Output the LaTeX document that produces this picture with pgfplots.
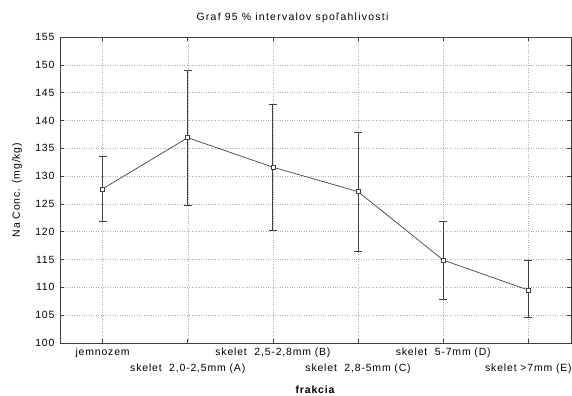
\documentclass[border=0pt]{standalone}
\usepackage{pgfplots}
\pgfplotsset{compat=1.18}
\usepackage{fontspec}
\setmainfont{Liberation Sans}[LetterSpace=8]
\definecolor{axgray}{HTML}{404040}
\definecolor{gridgray}{HTML}{B0B0B0}
\begin{document}
\begin{tikzpicture}[font=\fontsize{10.5}{12}\selectfont]
\useasboundingbox (0,0) rectangle (572bp,396bp);
\begin{axis}[
  at={(60bp,53bp)}, anchor=south west,
  scale only axis, width=511bp, height=306bp,
  xmin=-0.5, xmax=5.5, ymin=100, ymax=155,
  xtick={0,1,2,3,4,5},
  xticklabels={{jemnozem},{\vphantom{Skelet}\\skelet\ \ 2,0-2,5mm (A)},{skelet\ \ 2,5-2,8mm (B)},{\vphantom{Skelet}\\skelet\ \ 2,8-5mm (C)},{skelet\ \ 5-7mm (D)},{\vphantom{Skelet}\\skelet >7mm (E)}},
  xticklabel style={align=center, anchor=north, font=\fontsize{10.5}{16}\selectfont, yshift=-1bp},
  ytick={100,105,...,155},
  /pgf/number format/assume math mode=true,
  yticklabel style={font=\fontsize{10.5}{12}\selectfont, xshift=-2bp},
  tick align=inside, major tick length=4bp,
  tick style={axgray, line width=0.6pt},
  axis line style={axgray, line width=1pt},
  grid=major,
  major grid style={gridgray, dotted, line width=0.5pt},
  title={Graf 95 \% intervalov spoľahlivosti},
  title style={at={(axis description cs:0.455,1)}, anchor=center, yshift=13bp, font=\fontsize{10.5}{12}\selectfont\addfontfeature{LetterSpace=12}},
  xlabel={\textbf{frakcia}},
  xlabel style={at={(axis description cs:0.5,0)}, anchor=center, yshift=-47bp},
  ylabel={Na Conc. (mg/kg)},
  ylabel style={at={(axis description cs:-0.084,0.5)}, anchor=center},
]
\addplot[axgray, line width=1pt, draw=none, mark=none,
  error bars/.cd, y dir=both, y explicit,
  error bar style={axgray, line width=1pt},
  error mark options={rotate=90, mark size=4bp, axgray, line width=1pt}]
  coordinates {
  (0,127.7) += (0,5.8) -= (0,5.9)
  (1,136.9) += (0,12.1) -= (0,12.2)
  (2,131.6) += (0,11.3) -= (0,11.3)
  (3,127.2) += (0,10.7) -= (0,10.8)
  (4,114.9) += (0,7.0) -= (0,7.0)
  (5,109.5) += (0,5.4) -= (0,4.9)
  };
\addplot[axgray, line width=0.7pt, mark=square*, mark size=2bp,
  mark options={fill=white, draw=axgray, line width=0.7pt}]
  coordinates {(0,127.7) (1,136.9) (2,131.6) (3,127.2) (4,114.9) (5,109.5)};
\end{axis}
\end{tikzpicture}
\end{document}
